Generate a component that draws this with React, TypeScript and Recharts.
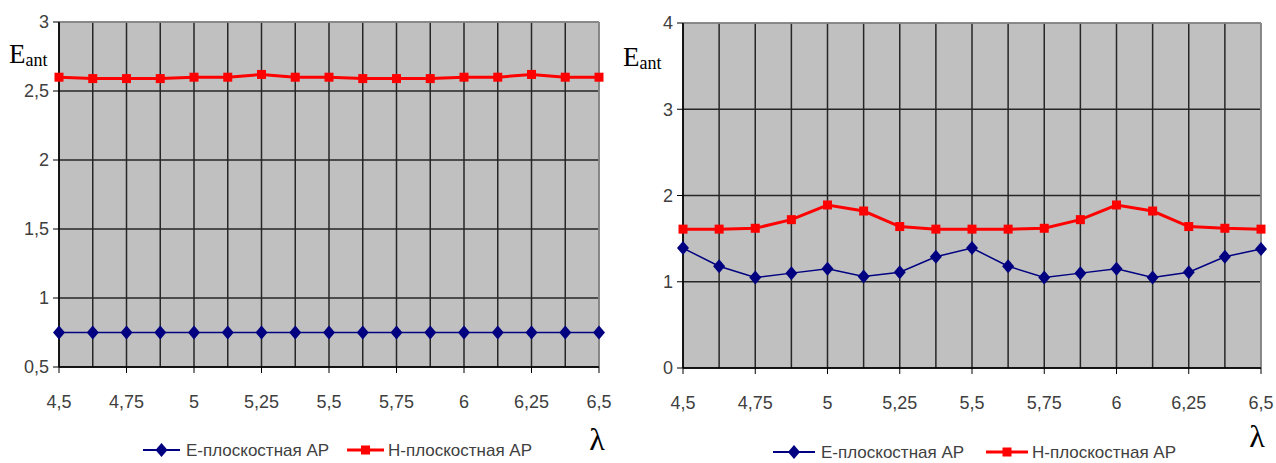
import React from 'react';
import { LineChart, Line, XAxis, YAxis, CartesianGrid, ReferenceLine } from 'recharts';

const lambda = [4.5, 4.625, 4.75, 4.875, 5, 5.125, 5.25, 5.375, 5.5, 5.625, 5.75, 5.875, 6, 6.125, 6.25, 6.375, 6.5];
const xLabels = ['4,5', '', '4,75', '', '5', '', '5,25', '', '5,5', '', '5,75', '', '6', '', '6,25', '', '6,5'];

const leftE = [0.75, 0.75, 0.75, 0.75, 0.75, 0.75, 0.75, 0.75, 0.75, 0.75, 0.75, 0.75, 0.75, 0.75, 0.75, 0.75, 0.75];
const leftH = [2.6, 2.59, 2.59, 2.59, 2.6, 2.6, 2.62, 2.6, 2.6, 2.59, 2.59, 2.59, 2.6, 2.6, 2.62, 2.6, 2.6];
const rightE = [1.39, 1.18, 1.05, 1.1, 1.15, 1.06, 1.11, 1.29, 1.39, 1.18, 1.05, 1.1, 1.15, 1.05, 1.11, 1.29, 1.38];
const rightH = [1.61, 1.61, 1.62, 1.72, 1.89, 1.82, 1.64, 1.61, 1.61, 1.61, 1.62, 1.72, 1.89, 1.82, 1.64, 1.62, 1.61];

const leftYTicks = [0.5, 1, 1.5, 2, 2.5, 3];
const rightYTicks = [0, 1, 2, 3, 4];

const seriesNames = ['E-плоскостная АР', 'H-плоскостная АР'];
const yLabel = 'E';
const yLabelSub = 'ant';
const xLabel = 'λ';

const BLUE = '#000080';
const RED = '#ff0000';
const TEXT = '#404040';
const SANS = '"Liberation Sans", Arial, sans-serif';
const SERIF = '"Liberation Serif", "Times New Roman", serif';

const leftData = lambda.map((l, i) => ({ lam: l, e: leftE[i], h: leftH[i] }));
const rightData = lambda.map((l, i) => ({ lam: l, e: rightE[i], h: rightH[i] }));

const fmt = (v: number) => String(v).replace('.', ',');

function Diamond(props: any) {
  const { cx, cy } = props;
  if (cx == null || cy == null) return null;
  return <path d={`M${cx},${cy - 7}L${cx + 6},${cy}L${cx},${cy + 7}L${cx - 6},${cy}Z`} fill={BLUE} />;
}

function Square(props: any) {
  const { cx, cy } = props;
  if (cx == null || cy == null) return null;
  return <rect x={cx - 4.5} y={cy - 4.5} width={9} height={9} fill={RED} />;
}

function XTick(props: any) {
  const { x, y, payload } = props;
  const label = xLabels[lambda.indexOf(payload.value)];
  if (!label) return null;
  return (
    <g>
      <line x1={x} x2={x} y1={y} y2={y + 6} stroke="#000" />
      <text x={x} y={y + 41} textAnchor="middle" fill={TEXT} fontSize={18} fontFamily={SANS}>
        {label}
      </text>
    </g>
  );
}

function Panel({ data, yTicks, width, yWidth, right, top, bottomPad }: any) {
  const domain = [yTicks[0], yTicks[yTicks.length - 1]];
  return (
    <LineChart
      width={width}
      height={463}
      data={data}
      margin={{ top, right, left: 0, bottom: bottomPad }}
    >
      <CartesianGrid fill="#c0c0c0" stroke="#262626" strokeWidth={1.5} strokeOpacity={1} />
      <ReferenceLine y={domain[1]} stroke="#9a9a9a" strokeWidth={1.5} />
      <ReferenceLine x={6.5} stroke="#9a9a9a" strokeWidth={1.5} />
      <XAxis
        dataKey="lam"
        type="number"
        domain={[4.5, 6.5]}
        ticks={lambda}
        interval={0}
        height={40}
        tickSize={0}
        tickMargin={0}
        tickLine={false}
        axisLine={{ stroke: '#000', strokeWidth: 1.5 }}
        tick={<XTick />}
      />
      <YAxis
        type="number"
        domain={domain}
        ticks={yTicks}
        width={yWidth}
        tickSize={6}
        tickMargin={4}
        tickFormatter={fmt}
        axisLine={{ stroke: '#000', strokeWidth: 1.5 }}
        tickLine={{ stroke: '#000' }}
        tick={{ fill: TEXT, fontSize: 18, fontFamily: SANS }}
        interval={0}
      />
      <Line
        dataKey="e"
        stroke={BLUE}
        strokeWidth={1.5}
        dot={<Diamond />}
        activeDot={false}
        isAnimationActive={false}
      />
      <Line
        dataKey="h"
        stroke={RED}
        strokeWidth={3}
        dot={<Square />}
        activeDot={false}
        isAnimationActive={false}
      />
    </LineChart>
  );
}

function LegendRow({ x0, y, lineLen, gap }: any) {
  const [n1, n2] = seriesNames;
  const x1 = x0;
  const t1 = x1 + lineLen + 6;
  const x2 = t1 + gap;
  const t2 = x2 + lineLen + 4;
  return (
    <g>
      <line x1={x1} x2={x1 + lineLen} y1={y} y2={y} stroke={BLUE} strokeWidth={2} />
      <Diamond cx={x1 + lineLen / 2} cy={y} />
      <text x={t1} y={y + 6} fill={TEXT} fontSize={17} fontFamily={SANS}>{n1}</text>
      <line x1={x2} x2={x2 + lineLen} y1={y} y2={y} stroke={RED} strokeWidth={3} />
      <Square cx={x2 + lineLen / 2} cy={y} />
      <text x={t2} y={y + 6} fill={TEXT} fontSize={17} fontFamily={SANS}>{n2}</text>
    </g>
  );
}

export default function App() {
  return (
    <div style={{ position: 'absolute', left: 0, top: 0, width: 1276, height: 463, background: '#fff' }}>
      <div style={{ position: 'absolute', left: 0, top: 0 }}>
        <Panel data={leftData} yTicks={leftYTicks} width={620} yWidth={59} right={21} top={22} bottomPad={56} />
      </div>
      <div style={{ position: 'absolute', left: 620, top: 0 }}>
        <Panel data={rightData} yTicks={rightYTicks} width={656} yWidth={63} right={15} top={23} bottomPad={55} />
      </div>
      <svg width={1276} height={463} style={{ position: 'absolute', left: 0, top: 0, pointerEvents: 'none' }}>
        <text x={9} y={63} fontFamily={SERIF} fontSize={27} fill="#000">
          {yLabel}
          <tspan fontSize={18} dy={3}>{yLabelSub}</tspan>
        </text>
        <text x={623} y={66} fontFamily={SERIF} fontSize={27} fill="#000">
          {yLabel}
          <tspan fontSize={18} dy={3}>{yLabelSub}</tspan>
        </text>
        <text x={597} y={450} textAnchor="middle" fontFamily={SERIF} fontSize={32} fill="#000">{xLabel}</text>
        <text x={1257} y={447} textAnchor="middle" fontFamily={SERIF} fontSize={32} fill="#000">{xLabel}</text>
        <LegendRow x0={143} y={450} lineLen={37} gap={161} />
        <LegendRow x0={773} y={452} lineLen={42} gap={165} />
      </svg>
    </div>
  );
}
